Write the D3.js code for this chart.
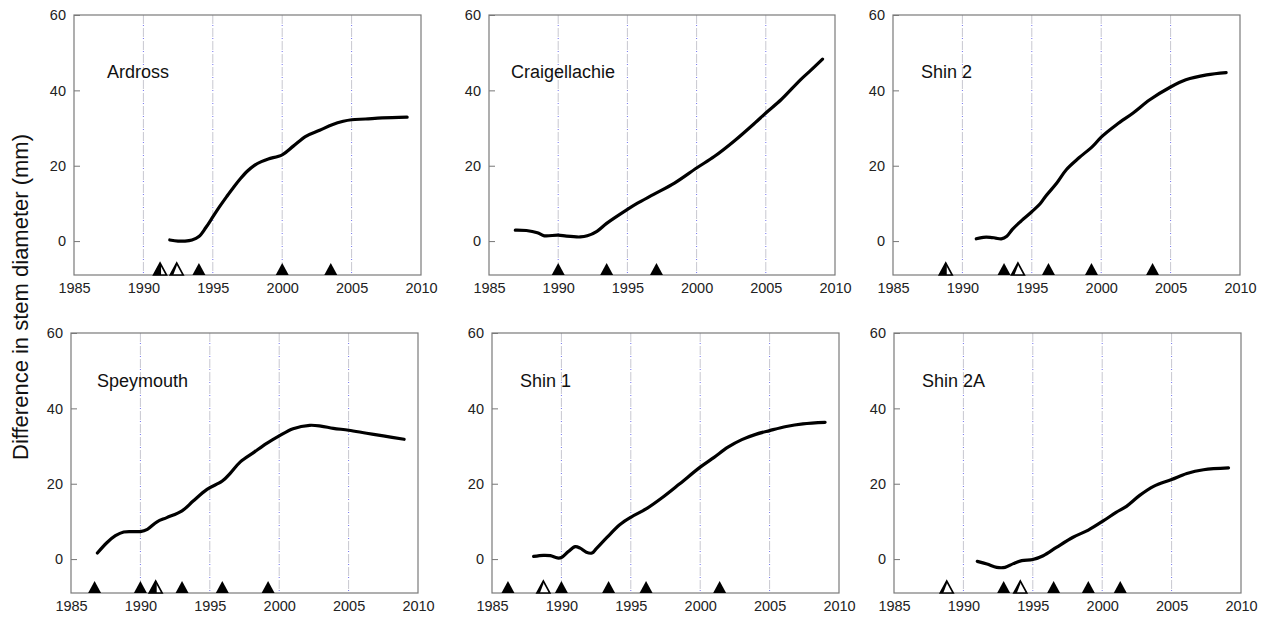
<!DOCTYPE html>
<html>
<head>
<meta charset="utf-8">
<script src="https://cdn.jsdelivr.net/npm/d3@7"></script>
<style>
  html, body { margin: 0; padding: 0; background: #fff; }
  svg { display: block; font-family: "Liberation Sans", Arial, sans-serif; }
</style>
</head>
<body>
<svg id="chart" width="1267" height="617"></svg>
<script>
// Cumulative difference in stem diameter (mm) by year, per site
const siteNames = ["Ardross", "Craigellachie", "Shin 2", "Speymouth", "Shin 1", "Shin 2A"];

const ardrossYears = [1991.9, 1992.5, 1993.0, 1993.5, 1994.0, 1994.5, 1995.0, 1995.5, 1996.0, 1996.5, 1997.0, 1997.5, 1998.0, 1998.5, 1999.0, 2000.0, 2000.8, 2001.7, 2002.7, 2003.6, 2004.4, 2005.0, 2006.0, 2007.2, 2009.0];
const ardrossDiam  = [0.3, 0.0, 0.0, 0.3, 1.2, 3.6, 6.4, 9.2, 11.8, 14.3, 16.6, 18.6, 20.1, 21.1, 21.8, 22.9, 25.2, 27.8, 29.4, 30.9, 31.8, 32.2, 32.4, 32.7, 32.9];

const craigYears = [1986.9, 1987.7, 1988.5, 1989.0, 1990.0, 1990.6, 1991.6, 1992.1, 1992.8, 1993.5, 1995.0, 1995.7, 1996.9, 1998.4, 2000.0, 2001.3, 2002.7, 2004.2, 2005.0, 2006.1, 2007.5, 2008.3, 2009.1];
const craigDiam  = [2.9, 2.8, 2.2, 1.4, 1.6, 1.3, 1.1, 1.4, 2.6, 4.7, 8.4, 10.0, 12.4, 15.4, 19.4, 22.5, 26.5, 31.3, 34.0, 37.5, 42.8, 45.5, 48.3];

const shin2Years = [1991.0, 1991.5, 1992.0, 1992.4, 1992.8, 1993.2, 1993.6, 1994.1, 1995.0, 1995.6, 1996.0, 1996.8, 1997.5, 1998.4, 1999.4, 2000.0, 2001.1, 2002.3, 2003.5, 2005.0, 2006.1, 2007.6, 2009.0];
const shin2Diam  = [0.6, 1.0, 1.0, 0.8, 0.6, 1.3, 3.1, 4.9, 7.8, 9.9, 11.9, 15.4, 19.0, 22.1, 25.2, 27.6, 30.9, 34.0, 37.5, 40.9, 42.8, 44.1, 44.7];

const speyYears = [1986.9, 1987.6, 1988.2, 1988.8, 1989.5, 1990.0, 1990.5, 1991.2, 1991.9, 1993.0, 1993.8, 1994.8, 1995.9, 1996.5, 1997.2, 1998.2, 1999.1, 2000.0, 2001.0, 2002.2, 2003.0, 2003.9, 2005.0, 2006.3, 2007.5, 2009.0];
const speyDiam  = [1.6, 4.4, 6.2, 7.2, 7.3, 7.3, 7.9, 9.9, 11.0, 12.8, 15.4, 18.5, 20.7, 22.9, 25.8, 28.4, 30.7, 32.7, 34.6, 35.5, 35.3, 34.7, 34.2, 33.4, 32.7, 31.8];

const shin1Years = [1988.0, 1988.7, 1989.2, 1989.7, 1990.0, 1990.5, 1991.0, 1991.35, 1991.8, 1992.2, 1992.5, 1993.3, 1994.2, 1995.0, 1996.1, 1997.3, 1998.5, 2000.0, 2001.0, 2002.0, 2003.0, 2004.0, 2005.0, 2006.2, 2007.4, 2009.0];
const shin1Diam  = [0.7, 1.0, 0.9, 0.3, 0.4, 2.0, 3.3, 2.9, 1.8, 1.6, 2.7, 5.8, 9.1, 11.1, 13.3, 16.4, 19.9, 24.4, 27.0, 29.7, 31.7, 33.1, 34.1, 35.2, 35.9, 36.3];

const shin2aYears = [1991.0, 1991.7, 1992.4, 1993.0, 1993.6, 1994.2, 1995.0, 1995.75, 1996.7, 1997.9, 1999.0, 2000.1, 2001.0, 2001.75, 2002.7, 2003.7, 2005.0, 2006.1, 2007.3, 2009.1];
const shin2aDiam  = [-0.6, -1.3, -2.2, -2.2, -1.2, -0.4, -0.1, 0.9, 3.1, 5.8, 7.7, 10.2, 12.4, 14.0, 16.9, 19.3, 21.1, 22.7, 23.7, 24.2];

// Event years marked along the x axis; kind: "f" filled, "h" half, "o" open
const ardrossEvents = [1991.2, 1992.4, 1994.0, 2000.0, 2003.5];
const ardrossKinds  = ["h", "o", "f", "f", "f"];
const craigEvents   = [1990.0, 1993.5, 1997.1];
const craigKinds    = ["f", "f", "f"];
const shin2Events   = [1988.8, 1993.0, 1994.0, 1996.2, 1999.3, 2003.7];
const shin2Kinds    = ["h", "f", "o", "f", "f", "f"];
const speyEvents    = [1986.7, 1990.0, 1991.1, 1993.0, 1995.9, 1999.2];
const speyKinds     = ["f", "f", "h", "f", "f", "f"];
const shin1Events   = [1986.15, 1988.7, 1990.0, 1993.4, 1996.1, 2001.4];
const shin1Kinds    = ["f", "o", "f", "f", "f", "f"];
const shin2aEvents  = [1988.8, 1992.9, 1994.1, 1996.5, 1999.0, 2001.3];
const shin2aKinds   = ["o", "f", "o", "f", "f", "f"];

// Axis ticks
const xTicks = [1985, 1990, 1995, 2000, 2005, 2010];
const gridYears = [1990, 1995, 2000, 2005];
const yTicks = [0, 20, 40, 60];
const xDomain = [1985, 2010];
const yDomain = [-9, 60];

const panels = [
  { name: siteNames[0], years: ardrossYears, diam: ardrossDiam, ev: ardrossEvents, kinds: ardrossKinds },
  { name: siteNames[1], years: craigYears,   diam: craigDiam,   ev: craigEvents,   kinds: craigKinds },
  { name: siteNames[2], years: shin2Years,   diam: shin2Diam,   ev: shin2Events,   kinds: shin2Kinds },
  { name: siteNames[3], years: speyYears,    diam: speyDiam,    ev: speyEvents,    kinds: speyKinds },
  { name: siteNames[4], years: shin1Years,   diam: shin1Diam,   ev: shin1Events,   kinds: shin1Kinds },
  { name: siteNames[5], years: shin2aYears,  diam: shin2aDiam,  ev: shin2aEvents,  kinds: shin2aKinds }
];

// Panel frames (pixels) and site-label placement inside each frame
const frames = [
  { x: 74,  y: 15,  w: 347, h: 260, lx: 33, ly: 63 },
  { x: 489, y: 15,  w: 346, h: 260, lx: 22, ly: 63 },
  { x: 893, y: 15,  w: 347, h: 260, lx: 28, ly: 63 },
  { x: 71,  y: 333, w: 347, h: 260, lx: 26, ly: 54 },
  { x: 492, y: 333, w: 347, h: 260, lx: 28, ly: 54 },
  { x: 894, y: 333, w: 347, h: 260, lx: 28, ly: 54 }
];

const svg = d3.select("#chart");

panels.forEach((p, i) => {
  const f = frames[i];
  const g = svg.append("g").attr("transform", `translate(${f.x},${f.y})`);
  const x = d3.scaleLinear().domain(xDomain).range([0, f.w]);
  const y = d3.scaleLinear().domain(yDomain).range([f.h, 0]);

  // vertical dash-dot reference lines
  gridYears.forEach(yr => {
    g.append("line")
      .attr("x1", x(yr)).attr("x2", x(yr))
      .attr("y1", 0).attr("y2", f.h)
      .attr("stroke", "#c8c8d0").attr("stroke-width", 1)
      .attr("stroke-dasharray", "9,4");
    g.append("line")
      .attr("x1", x(yr)).attr("x2", x(yr))
      .attr("y1", 0).attr("y2", f.h)
      .attr("stroke", "#7070f0").attr("stroke-width", 1)
      .attr("stroke-dasharray", "1,12").attr("stroke-dashoffset", -10);
  });

  // y axis: inward ticks, labels on the left
  const yAxis = d3.axisLeft(y).tickValues(yTicks).tickSizeInner(-6).tickSizeOuter(0).tickPadding(8);
  const ya = g.append("g").call(yAxis);
  ya.select(".domain").remove();
  ya.selectAll(".tick line").attr("stroke", "#777");
  ya.selectAll(".tick text").attr("font-size", 14.5).attr("fill", "#222")
    .attr("font-family", "'Liberation Sans', Arial, sans-serif");

  // x axis: labels only under the frame
  const xAxis = d3.axisBottom(x).tickValues(xTicks).tickFormat(d3.format("d")).tickSizeInner(0).tickSizeOuter(0).tickPadding(8);
  const xa = g.append("g").attr("transform", `translate(0,${f.h})`).call(xAxis);
  xa.select(".domain").remove();
  xa.selectAll(".tick text").attr("font-size", 14.5).attr("fill", "#222")
    .attr("font-family", "'Liberation Sans', Arial, sans-serif");

  // frame
  g.append("rect")
    .attr("x", 0).attr("y", 0).attr("width", f.w).attr("height", f.h)
    .attr("fill", "none").attr("stroke", "#7a7a7a").attr("stroke-width", 1.2);

  // growth curve
  const pts = p.years.map((yr, k) => [yr, p.diam[k]]);
  const line = d3.line().x(d => x(d[0])).y(d => y(d[1])).curve(d3.curveCatmullRom.alpha(0.5));
  g.append("path")
    .attr("d", line(pts))
    .attr("fill", "none").attr("stroke", "#000").attr("stroke-width", 3.2)
    .attr("stroke-linecap", "round").attr("stroke-linejoin", "round");

  // event triangles sitting on the bottom axis
  const base = y(yDomain[0]);
  const hw = 6.5, th = 12;
  p.ev.forEach((yr, k) => {
    const cx = x(yr);
    const kind = p.kinds[k];
    const tri = `M${cx - hw},${base} L${cx + hw},${base} L${cx},${base - th} Z`;
    if (kind === "f") {
      g.append("path").attr("d", tri).attr("fill", "#000");
    } else {
      g.append("path").attr("d", tri).attr("fill", "#fff")
        .attr("stroke", "#000").attr("stroke-width", 1.6).attr("stroke-linejoin", "miter");
      if (kind === "h") {
        g.append("path")
          .attr("d", `M${cx - hw},${base} L${cx + 1},${base} L${cx + 1},${base - th + 1} L${cx},${base - th} Z`)
          .attr("fill", "#000");
      } else {
        g.append("path")
          .attr("d", `M${cx - hw},${base} L${cx - hw + 3},${base} L${cx},${base - th + 3} L${cx},${base - th} Z`)
          .attr("fill", "#000");
      }
    }
  });

  // site name
  g.append("text")
    .attr("x", f.lx).attr("y", f.ly)
    .attr("font-size", 18).attr("fill", "#111")
    .text(p.name);
});

// shared y-axis title
svg.append("text")
  .attr("transform", "translate(28,297) rotate(-90)")
  .attr("text-anchor", "middle")
  .attr("font-size", 22).attr("fill", "#111")
  .text("Difference in stem diameter (mm)");
</script>
</body>
</html>
